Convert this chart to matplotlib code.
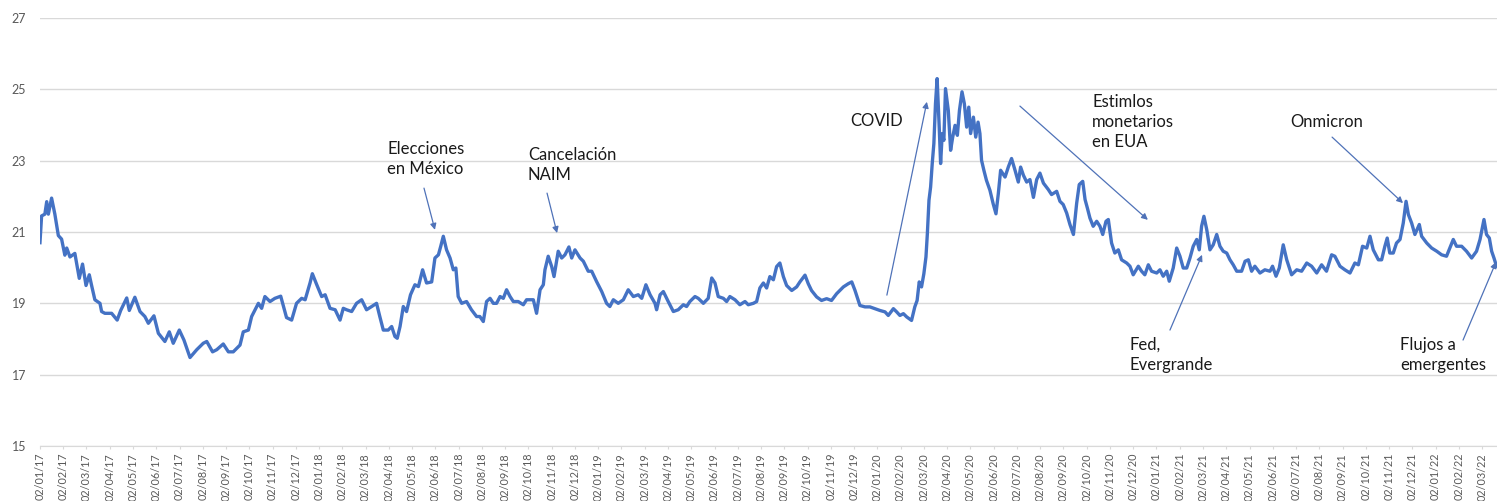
import numpy as np
import pandas as pd
import matplotlib
matplotlib.use("Agg")
import matplotlib.pyplot as plt

plt.rcParams['font.family'] = ['Lato', 'DejaVu Sans']

# meses transcurridos desde el 02/01/17 y tipo de cambio peso/dólar
mes = [
    0.0, 0.07, 0.21, 0.29, 0.36, 0.5, 0.64, 0.79, 0.93, 1.07, 1.15, 1.29, 1.5, 1.69, 1.83, 1.98,
    2.12, 2.22, 2.36, 2.58, 2.65, 2.79, 3.08, 3.32, 3.47, 3.73, 3.84, 4.08, 4.3, 4.51, 4.66, 4.9,
    5.09, 5.37, 5.56, 5.73, 5.99, 6.19, 6.45, 6.74, 7.02, 7.17, 7.42, 7.6, 7.88, 8.1, 8.31, 8.6,
    8.74, 8.96, 9.1, 9.39, 9.53, 9.67, 9.89, 10.1, 10.35, 10.6, 10.82, 11.03, 11.25, 11.4, 11.61,
    11.71, 11.9, 12.11, 12.26, 12.47, 12.69, 12.9, 13.04, 13.18, 13.4, 13.61, 13.83, 14.04, 14.26,
    14.47, 14.61, 14.76, 14.97, 15.12, 15.26, 15.36, 15.48, 15.62, 15.76, 15.93, 16.12, 16.27,
    16.45, 16.62, 16.84, 16.98, 17.13, 17.23, 17.34, 17.48, 17.63, 17.77, 17.88, 17.98, 18.13,
    18.34, 18.55, 18.77, 18.91, 19.06, 19.2, 19.35, 19.49, 19.63, 19.78, 19.92, 20.06, 20.21,
    20.35, 20.56, 20.78, 20.92, 21.07, 21.21, 21.35, 21.5, 21.64, 21.71, 21.85, 22.0, 22.1, 22.28,
    22.43, 22.57, 22.74, 22.86, 23.0, 23.22, 23.36, 23.57, 23.72, 23.93, 24.15, 24.36, 24.5,
    24.65, 24.86, 25.08, 25.29, 25.51, 25.72, 25.87, 26.05, 26.23, 26.44, 26.51, 26.66, 26.8,
    27.01, 27.23, 27.44, 27.66, 27.8, 27.94, 28.16, 28.3, 28.52, 28.73, 28.88, 29.02, 29.16,
    29.38, 29.52, 29.66, 29.88, 30.09, 30.31, 30.45, 30.67, 30.81, 30.95, 31.1, 31.24, 31.38,
    31.53, 31.67, 31.81, 31.96, 32.1, 32.32, 32.53, 32.67, 32.89, 33.03, 33.17, 33.39, 33.6,
    33.82, 34.03, 34.25, 34.39, 34.54, 34.75, 34.9, 35.04, 35.25, 35.47, 35.68, 35.9, 36.11,
    36.33, 36.47, 36.69, 36.83, 36.97, 37.12, 37.26, 37.47, 37.61, 37.71, 37.8, 37.9, 38.0,
    38.09, 38.15, 38.22, 38.29, 38.36, 38.43, 38.5, 38.57, 38.66, 38.72, 38.79, 38.86, 38.93,
    39.05, 39.15, 39.24, 39.34, 39.44, 39.53, 39.64, 39.74, 39.84, 39.93, 40.01, 40.13, 40.23,
    40.33, 40.41, 40.48, 40.58, 40.69, 40.84, 40.98, 41.1, 41.2, 41.3, 41.49, 41.63, 41.77,
    41.92, 42.06, 42.16, 42.28, 42.42, 42.56, 42.71, 42.85, 42.99, 43.14, 43.35, 43.49, 43.71,
    43.85, 43.99, 44.14, 44.28, 44.43, 44.57, 44.68, 44.83, 44.93, 45.03, 45.14, 45.28, 45.43,
    45.57, 45.69, 45.83, 45.93, 46.07, 46.21, 46.36, 46.5, 46.72, 46.86, 47.0, 47.22, 47.36,
    47.5, 47.65, 47.79, 48.01, 48.15, 48.29, 48.44, 48.55, 48.72, 48.87, 49.01, 49.15, 49.3,
    49.44, 49.58, 49.73, 49.84, 49.94, 50.04, 50.16, 50.3, 50.44, 50.59, 50.73, 50.87, 51.02,
    51.16, 51.3, 51.45, 51.66, 51.81, 51.95, 52.09, 52.23, 52.45, 52.66, 52.88, 52.99, 53.14,
    53.28, 53.45, 53.6, 53.81, 54.03, 54.24, 54.46, 54.67, 54.89, 55.1, 55.31, 55.53, 55.67,
    55.89, 56.1, 56.32, 56.53, 56.68, 56.86, 57.04, 57.18, 57.32, 57.54, 57.68, 57.82, 57.92,
    58.03, 58.18, 58.32, 58.47, 58.61, 58.73, 58.83, 58.97, 59.11, 59.3, 59.4, 59.62, 59.83,
    60.05, 60.26, 60.47, 60.76, 60.9, 61.12, 61.33, 61.55, 61.76, 61.91, 62.08, 62.19, 62.31,
    62.41, 62.51, 62.62,
]
tipo_cambio = [
    20.7, 21.45, 21.5, 21.85, 21.5, 21.95, 21.5, 20.9, 20.8, 20.35, 20.55, 20.3, 20.4, 19.7, 20.1, 19.5,
    19.8, 19.5, 19.1, 19.0, 18.77, 18.72, 18.72, 18.53, 18.8, 19.15, 18.8, 19.17, 18.77, 18.63, 18.44, 18.65,
    18.16, 17.93, 18.2, 17.88, 18.25, 17.97, 17.48, 17.7, 17.88, 17.93, 17.64, 17.7, 17.86, 17.64, 17.64, 17.83,
    18.2, 18.25, 18.63, 19.0, 18.86, 19.19, 19.05, 19.14, 19.2, 18.6, 18.53, 19.0, 19.14, 19.1, 19.57,
    19.83, 19.52, 19.19, 19.24, 18.86, 18.82, 18.53, 18.86, 18.82, 18.77, 19.0, 19.1, 18.82, 18.91,
    19.0, 18.63, 18.25, 18.25, 18.35, 18.07, 18.02, 18.35, 18.91, 18.77, 19.24, 19.52, 19.47,
    19.94, 19.57, 19.6, 20.27, 20.36, 20.6, 20.88, 20.5, 20.27, 19.94, 19.99, 19.19, 19.0,
    19.05, 18.82, 18.63, 18.63, 18.49, 19.05, 19.14, 19.0, 19.0, 19.19, 19.14, 19.38, 19.19,
    19.05, 19.05, 18.96, 19.1, 19.1, 19.1, 18.72, 19.38, 19.52, 19.94, 20.32, 20.03, 19.75, 20.46,
    20.27, 20.36, 20.58, 20.27, 20.5, 20.27, 20.18, 19.9, 19.9, 19.61, 19.33, 19.0, 18.91,
    19.1, 19.0, 19.1, 19.38, 19.19, 19.24, 19.14, 19.52, 19.24, 19.0, 18.82, 19.24, 19.33,
    19.05, 18.77, 18.82, 18.96, 18.91, 19.05, 19.19, 19.14, 19.0, 19.14, 19.71, 19.57, 19.19,
    19.14, 19.05, 19.19, 19.1, 18.96, 19.05, 18.96, 19.0, 19.05, 19.43, 19.57, 19.43, 19.75,
    19.66, 20.03, 20.13, 19.75, 19.5, 19.36, 19.46, 19.6, 19.79, 19.55, 19.36, 19.18, 19.08,
    19.13, 19.08, 19.27, 19.36, 19.46, 19.55, 19.6, 19.36, 18.94, 18.9, 18.9, 18.85, 18.8,
    18.76, 18.66, 18.85, 18.76, 18.66, 18.71, 18.62, 18.52, 18.9, 19.08, 19.6, 19.46, 19.83,
    20.3, 20.95, 21.89, 22.26, 22.92, 23.48, 24.6, 25.3, 23.94, 22.92, 23.76, 23.57, 25.02,
    24.41, 23.29, 23.66, 23.99, 23.71, 24.41, 24.93, 24.6, 23.94, 24.5, 23.76, 24.22, 23.66,
    24.08, 23.76, 23.01, 22.73, 22.45, 22.17, 21.79, 21.51, 22.07, 22.73, 22.54, 22.82, 23.06,
    22.73, 22.4, 22.82, 22.59, 22.4, 22.47, 21.97, 22.47, 22.65, 22.37, 22.19, 22.05, 22.14,
    21.86, 21.77, 21.53, 21.21, 20.93, 21.81, 22.33, 22.42, 21.91, 21.67, 21.39, 21.16, 21.3,
    21.16, 20.93, 21.3, 21.35, 20.69, 20.41, 20.5, 20.22, 20.13, 20.04, 19.8, 20.04, 19.9,
    19.8, 20.08, 19.9, 19.85, 19.94, 19.76, 19.9, 19.62, 19.99, 20.55, 20.32, 19.99, 19.99,
    20.27, 20.6, 20.79, 20.5, 21.16, 21.44, 21.07, 20.5, 20.64, 20.93, 20.6, 20.46, 20.41,
    20.22, 20.08, 19.9, 19.9, 20.18, 20.22, 19.9, 20.04, 19.85, 19.94, 19.9, 20.04, 19.76,
    19.99, 20.64, 20.22, 19.8, 19.94, 19.9, 20.13, 20.04, 19.85, 20.08, 19.9, 20.36, 20.32,
    20.04, 19.94, 19.85, 20.13, 20.08, 20.6, 20.55, 20.88, 20.5, 20.22, 20.22, 20.6, 20.83,
    20.41, 20.41, 20.69, 20.79, 21.25, 21.86, 21.49, 21.25, 20.93, 21.21, 20.88, 20.69, 20.55,
    20.46, 20.36, 20.32, 20.79, 20.6, 20.6, 20.46, 20.27, 20.46, 20.79, 21.35, 20.93, 20.83,
    20.46, 20.27, 20.04,
]

fechas = pd.date_range('2017-01-02', periods=63, freq=pd.DateOffset(months=1))
etiquetas_x = fechas.strftime('%d/%m/%y').tolist()
valores_y = [15, 17, 19, 21, 23, 25, 27]

azul = '#4472C4'
flecha = dict(arrowstyle='-|>', color='#4f72b8', lw=0.9, mutation_scale=9,
              shrinkA=0, shrinkB=0)

fig = plt.figure(figsize=(14.97, 5.01), dpi=100)
ax = fig.add_axes([0.0267, 0.1098, 0.9733, 0.8543])

ax.plot(mes, tipo_cambio, color=azul, lw=2.4, solid_joinstyle='round')

ax.set_xlim(0, 62.64)
ax.set_ylim(15, 27)
ax.set_yticks(valores_y)
ax.set_xticks(np.arange(len(etiquetas_x)))
ax.set_xticklabels(etiquetas_x, rotation=90)

ax.yaxis.grid(True, color='#d9d9d9', lw=1)
ax.set_axisbelow(True)
for lado in ['top', 'right', 'left']:
    ax.spines[lado].set_visible(False)
ax.spines['bottom'].set_color('#d9d9d9')
ax.tick_params(axis='y', length=0, pad=10, labelsize=9, labelcolor='#595959')
ax.tick_params(axis='x', length=2.5, width=0.8, color='#d9d9d9', pad=2.5,
               labelsize=7.8, labelcolor='#595959')

# eventos
txt = dict(fontsize=12, color='#1a1a1a', ha='left', va='top', linespacing=1.3)
ax.text(14.92, 23.55, "Elecciones\nen México", multialignment='center', **txt)
ax.annotate('', xy=(16.98, 21.06), xytext=(16.51, 22.23), arrowprops=flecha)

ax.text(20.98, 23.38, "Cancelación\nNAIM", **txt)
ax.annotate('', xy=(22.23, 20.97), xytext=(21.8, 22.09), arrowprops=flecha)

ax.text(34.82, 24.34, "COVID", **txt)
ax.annotate('', xy=(38.13, 24.65), xytext=(36.41, 19.23), arrowprops=flecha)

ax.text(45.23, 24.87, "Estimlos\nmonetarios\nen EUA", **txt)
ax.annotate('', xy=(47.63, 21.34), xytext=(42.13, 24.53), arrowprops=flecha)

ax.text(53.74, 24.31, "Onmicron", **txt)
ax.annotate('', xy=(58.6, 21.81), xytext=(55.55, 23.66), arrowprops=flecha)

ax.text(46.86, 18.06, "Fed,\nEvergrande", **txt)
ax.annotate('', xy=(49.96, 20.36), xytext=(48.58, 18.25), arrowprops=flecha)

ax.text(58.47, 18.06, "Flujos a\nemergentes", **txt)
ax.annotate('', xy=(62.6, 20.16), xytext=(61.18, 17.97), arrowprops=flecha,
            annotation_clip=False)

fig.savefig('out.png', dpi=100)
